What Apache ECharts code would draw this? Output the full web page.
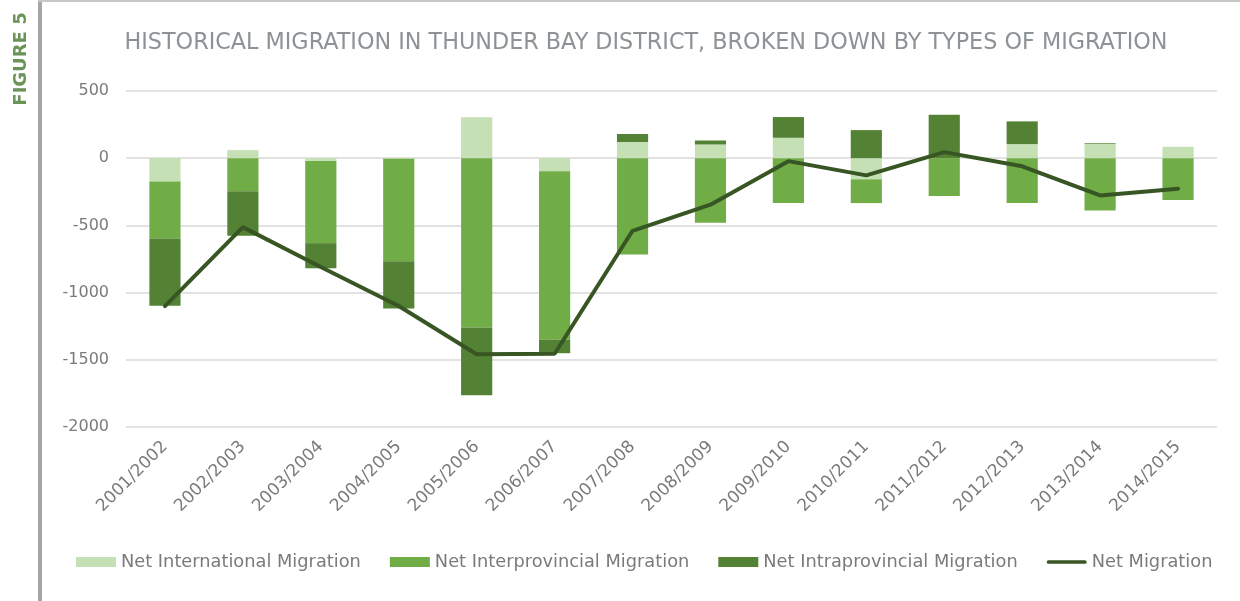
<!DOCTYPE html>
<html><head><meta charset="utf-8">
<script src="https://cdn.jsdelivr.net/npm/echarts@6/dist/echarts.min.js"></script>
<style>html,body{margin:0;padding:0;background:#fff}#c{width:1240px;height:601px}</style>
</head><body><div id="c"></div>
<script>
const categories = ['2001/2002','2002/2003','2003/2004','2004/2005','2005/2006','2006/2007','2007/2008','2008/2009','2009/2010','2010/2011','2011/2012','2012/2013','2013/2014','2014/2015'];
const international = [-174, 60, -20, -5, 304, -97, 120, 102, 152, -157, 0, 105, 108, 85];
const interprovincial = [-423, -246, -612, -762, -1260, -1252, -717, -481, -334, -177, -281, -334, -390, -311];
const intraprovincial = [-500, -331, -187, -351, -503, -102, 60, 30, 154, 209, 324, 169, 5, 0];
const netMigration = [-1100, -513, -810, -1100, -1459, -1455, -540, -346, -22, -128, 45, -60, -277, -227];
const yTicks = [500, 0, -500, -1000, -1500, -2000];

const font = 'DejaVu Sans';
const gray = '#7a7a7a';
const chart = echarts.init(document.getElementById('c'));
chart.setOption({
  animation: false,
  title: {
    text: 'HISTORICAL MIGRATION IN THUNDER BAY DISTRICT, BROKEN DOWN BY TYPES OF MIGRATION',
    left: 641, top: 27, textAlign: 'center',
    textStyle: {fontFamily: font, fontWeight: 'normal', fontSize: 22.3, color: '#8d9296'}
  },
  graphic: [
    {type: 'rect', shape: {x: 38, y: 0, width: 4, height: 601}, style: {fill: '#a6a6a6'}},
    {type: 'rect', shape: {x: 38, y: 0, width: 1202, height: 2}, style: {fill: '#c8c8c8'}},
    {type: 'text', x: 21, y: 59, rotation: Math.PI / 2,
     style: {text: 'FIGURE 5', fontFamily: font, fontWeight: 'bold', fontSize: 18, fill: '#6b9358', align: 'center', verticalAlign: 'middle'}}
  ],
  legend: {
    bottom: 25, left: 71, itemWidth: 40, itemHeight: 10, itemGap: 29,
    textStyle: {fontFamily: font, fontSize: 17.8, color: gray},
    data: [
      {name: 'Net International Migration', icon: 'rect'},
      {name: 'Net Interprovincial Migration', icon: 'rect'},
      {name: 'Net Intraprovincial Migration', icon: 'rect'},
      {name: 'Net Migration', icon: 'path://M2,0 H41 A2,2 0 0 1 41,4 H2 A2,2 0 0 1 2,0 Z', itemStyle: {color: '#375623'}}
    ]
  },
  grid: {left: 126, right: 23, top: 91, bottom: 174},
  xAxis: {
    type: 'category', data: categories,
    axisLine: {show: false}, axisTick: {show: false},
    axisLabel: {rotate: 45, fontFamily: font, fontSize: 17, color: gray, margin: 17, interval: 0}
  },
  yAxis: {
    type: 'value', min: -2000, max: 500, interval: 500,
    axisLine: {show: false}, axisTick: {show: false},
    axisLabel: {fontFamily: font, fontSize: 16, color: gray, margin: 17, formatter: v => String(v)},
    splitLine: {lineStyle: {color: '#d9d9d9', width: 1.5}}
  },
  series: [
    {name: 'Net International Migration', type: 'bar', stack: 'm', barWidth: '40%', data: international,
     itemStyle: {color: '#c5e0b4'}},
    {name: 'Net Interprovincial Migration', type: 'bar', stack: 'm', data: interprovincial,
     itemStyle: {color: '#70ad47'}},
    {name: 'Net Intraprovincial Migration', type: 'bar', stack: 'm', data: intraprovincial,
     itemStyle: {color: '#548235'}},
    {name: 'Net Migration', type: 'line', data: netMigration, symbol: 'none',
     lineStyle: {color: '#375623', width: 4, cap: 'round'}, itemStyle: {color: '#375623'}, z: 5}
  ]
});
</script></body></html>
